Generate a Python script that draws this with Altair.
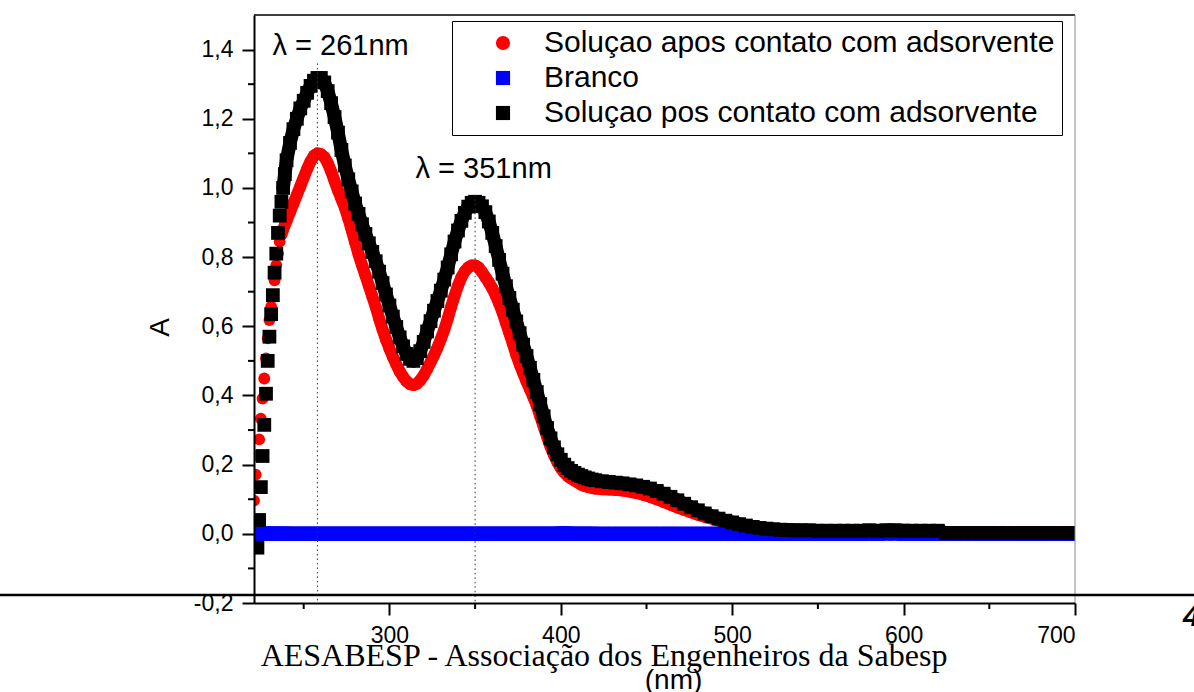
import altair as alt
import pandas as pd

# ---------------- data ----------------
# wavelength grid (nm): 1 nm steps on the steep start, coarser afterwards
WL_A = list(range(221, 240))          # 19 points
WL_B = list(range(240, 420, 2))       # 90 points
WL_C = list(range(420, 540, 4))       # 30 points
WL_D = list(range(540, 701, 5))       # 33 points

NAME_RED = "Soluçao apos contato com adsorvente"
NAME_BLUE = "Branco"
NAME_BLACK = "Soluçao pos contato com adsorvente"

RED_A = [0.096, 0.171, 0.226, 0.273, 0.333, 0.391, 0.449, 0.507, 0.565, 0.618,
         0.657, 0.690, 0.733, 0.777, 0.811, 0.845, 0.865, 0.880, 0.893]
RED_B = [0.905, 0.93, 0.955, 0.98, 1.005, 1.03, 1.055, 1.077, 1.093, 1.10,
         1.098, 1.09, 1.072, 1.048, 1.02, 0.993, 0.968, 0.943, 0.912, 0.878,
         0.843, 0.808, 0.777, 0.747, 0.717, 0.687, 0.656, 0.622, 0.591, 0.562,
         0.536, 0.512, 0.49, 0.47, 0.454, 0.441, 0.433, 0.43, 0.434, 0.444,
         0.458, 0.476, 0.496, 0.516, 0.538, 0.563, 0.59, 0.622, 0.656, 0.688,
         0.717, 0.742, 0.759, 0.77, 0.776, 0.776, 0.77, 0.757, 0.742, 0.727,
         0.71, 0.69, 0.666, 0.64, 0.61, 0.58, 0.55, 0.518, 0.49, 0.465,
         0.44, 0.418, 0.395, 0.37, 0.34, 0.31, 0.28, 0.252, 0.228, 0.207,
         0.19, 0.177, 0.167, 0.16, 0.154, 0.148, 0.142, 0.138, 0.135, 0.133]
RED_C = [0.131, 0.129, 0.128, 0.127, 0.125, 0.122, 0.118, 0.113, 0.107, 0.1,
         0.092, 0.084, 0.076, 0.069, 0.062, 0.055, 0.049, 0.044, 0.038, 0.033,
         0.028, 0.023, 0.019, 0.016, 0.013, 0.012, 0.011, 0.01, 0.01, 0.01]
RED_D = [0.009, 0.009, 0.009, 0.009, 0.009, 0.009, 0.01, 0.01, 0.01, 0.011,
         0.012, 0.012, 0.012, 0.011, 0.011, 0.011, 0.011,
         0.005, 0.005, 0.005, 0.005, 0.005, 0.005, 0.005, 0.005,
         0.005, 0.005, 0.005, 0.005, 0.005, 0.005, 0.005, 0.005]

BLACK_A = [None, None, -0.04, 0.04, 0.135, 0.225, 0.315, 0.405, 0.50, 0.57,
           0.635, 0.69, 0.755, 0.81, 0.87, 0.92, 0.96, 1.0, 1.04]
BLACK_B = [1.08, 1.13, 1.17, 1.2, 1.23, 1.252, 1.275, 1.295, 1.31, 1.318,
           1.318, 1.305, 1.28, 1.245, 1.205, 1.16, 1.11, 1.065, 1.025, 0.99,
           0.955, 0.925, 0.895, 0.867, 0.84, 0.815, 0.788, 0.758, 0.725, 0.692,
           0.66, 0.628, 0.598, 0.568, 0.542, 0.52, 0.506, 0.5, 0.508, 0.528,
           0.555, 0.585, 0.615, 0.645, 0.673, 0.703, 0.735, 0.77, 0.808, 0.845,
           0.877, 0.905, 0.928, 0.946, 0.957, 0.96, 0.957, 0.947, 0.93, 0.903,
           0.87, 0.832, 0.792, 0.752, 0.716, 0.682, 0.648, 0.614, 0.58, 0.547,
           0.514, 0.48, 0.445, 0.41, 0.375, 0.34, 0.306, 0.276, 0.25, 0.23,
           0.214, 0.2, 0.19, 0.182, 0.176, 0.171, 0.167, 0.163, 0.16, 0.157]
BLACK_C = [0.155, 0.152, 0.15, 0.148, 0.146, 0.143, 0.14, 0.136, 0.131, 0.124,
           0.116, 0.107, 0.097, 0.087, 0.077, 0.068, 0.059, 0.051, 0.044, 0.038,
           0.033, 0.028, 0.024, 0.02, 0.017, 0.015, 0.013, 0.012, 0.011, 0.01]
BLACK_D = [0.01, 0.01, 0.009, 0.009, 0.009, 0.009, 0.009, 0.009, 0.01, 0.009,
           0.01, 0.01, 0.009, 0.009, 0.009, 0.009, 0.009,
           0.002, 0.002, 0.002, 0.002, 0.002, 0.002, 0.002, 0.002,
           0.002, 0.002, 0.002, 0.002, 0.002, 0.002, 0.002, 0.002]

BLUE_A = [0.0, 0.0, 0.0, 0.0, 0.0, 0.0, 0.0, 0.0, 0.0, 0.0,
          0.0, 0.0, 0.0, 0.0, 0.0, 0.0, 0.0, 0.0, 0.0]
BLUE_B = [0.0, 0.0, 0.0, 0.0, 0.0, 0.0, 0.0, 0.0, 0.0, 0.0,
          0.0, 0.0, 0.0, 0.0, 0.0, 0.0, 0.0, 0.0, 0.0, 0.0,
          0.0, 0.0, 0.0, 0.0, 0.0, 0.0, 0.0, 0.0, 0.0, 0.0,
          0.0, 0.0, 0.0, 0.0, 0.0, 0.0, 0.0, 0.0, 0.0, 0.0,
          0.0, 0.0, 0.0, 0.0, 0.0, 0.0, 0.0, 0.0, 0.0, 0.0,
          0.0, 0.0, 0.0, 0.0, 0.0, 0.0, 0.0, 0.0, 0.0, 0.0,
          0.0, 0.0, 0.0, 0.0, 0.0, 0.0, 0.0, 0.0, 0.0, 0.0,
          0.0, 0.0, 0.0, 0.0, 0.0, 0.0, 0.0, 0.0, 0.0, 0.0,
          0.001, 0.001, 0.001, 0.0, 0.0, 0.0, 0.0, 0.0, 0.0, 0.0]
BLUE_C = [0.0, 0.0, 0.0, 0.0, 0.0, 0.0, 0.0, 0.0, 0.0, 0.0,
          0.0, 0.0, 0.0, 0.0, 0.0, 0.0, 0.0, 0.0, 0.0, 0.0,
          0.0, 0.0, 0.0, 0.0, 0.0, 0.0, 0.0, 0.0, 0.0, 0.0]
BLUE_D = [0.0, 0.0, 0.0, 0.0, 0.0, 0.0, 0.0, 0.0, 0.0, 0.0,
          0.001, 0.001, 0.0, 0.0, 0.0, 0.0, 0.0,
          0.0, 0.0, 0.0, 0.0, 0.0, 0.0, 0.0, 0.0,
          0.0, 0.0, 0.0, 0.0, 0.0, 0.0, 0.0, 0.0]

X_TICKS = [300, 400, 500, 600, 700]
X_MINOR = [250, 350, 450, 550, 650]
Y_TICKS = [-0.2, 0.0, 0.2, 0.4, 0.6, 0.8, 1.0, 1.2, 1.4]
Y_MINOR = [-0.1, 0.1, 0.3, 0.5, 0.7, 0.9, 1.1, 1.3]

DROP_X = [258, 350]          # dotted drop lines at the two maxima
DROP_TOP = [1.36, 0.98]
ANN_TEXT = ["λ = 261nm", "λ = 351nm"]
ANN_X = [271.5, 355]
ANN_Y = [1.41, 1.055]

NAMES = [NAME_RED, NAME_BLUE, NAME_BLACK]
COLORS = ["#ff0000", "#0000ff", "#000000"]
SHAPES = ["circle", "square", "square"]

# ---------------- geometry ----------------
W, H = 821, 588
PAD = {"left": 254, "top": 15, "right": 119, "bottom": 89}
FONT = "Liberation Sans"

WL = WL_A + WL_B + WL_C + WL_D


def frame(name, a, b, c, d):
    vals = a + b + c + d
    df = pd.DataFrame({"wl": WL[:len(vals)], "A": vals, "series": name})
    return df.dropna()


df_red = frame(NAME_RED, RED_A, RED_B, RED_C, RED_D)
df_blue = frame(NAME_BLUE, BLUE_A, BLUE_B, BLUE_C, BLUE_D)
df_black = frame(NAME_BLACK, BLACK_A, BLACK_B, BLACK_C, BLACK_D)

xscale = alt.Scale(domain=[221, 700], nice=False, zero=False)
yscale = alt.Scale(domain=[-0.2, 1.5], nice=False, zero=False)

x_axis = alt.Axis(values=X_TICKS, format="d", tickSize=12, tickWidth=2,
                  domainWidth=2, domainColor="black", tickColor="black",
                  labelFont=FONT, labelFontSize=23, labelColor="black",
                  labelPadding=9, grid=False, title="(nm)", titleFont=FONT,
                  titleFontSize=28, titleFontWeight="normal", titleColor="black",
                  titleX=419, titleY=85, titleBaseline="alphabetic",
                  titleAlign="center", zindex=2)
y_axis = alt.Axis(values=Y_TICKS, tickSize=12, tickWidth=2, domainWidth=2,
                  domainColor="black", tickColor="black",
                  labelExpr="(datum.value < 0 ? '-' : '') + replace(format(abs(datum.value), '.1f'), '.', ',')",
                  labelFont=FONT, labelFontSize=23, labelColor="black",
                  labelPadding=9, grid=False, title="A", titleFont=FONT,
                  titleFontSize=28, titleFontWeight="normal", titleColor="black",
                  titleAngle=270, titleX=-94, titleY=312, titleBaseline="middle",
                  titleAlign="center", zindex=2)


def X(field):
    return alt.X(field, scale=xscale, axis=x_axis)


def Y(field):
    return alt.Y(field, scale=yscale, axis=y_axis)


legend = alt.Legend(orient="none", legendX=198, legendY=6, title=None,
                    labelFont=FONT, labelFontSize=30, labelColor="black",
                    labelLimit=700, symbolSize=200, symbolStrokeWidth=0,
                    symbolOffset=29, labelOffset=26, padding=7, rowPadding=5,
                    strokeColor="black", fillColor="white")

color_enc = alt.Color("series:N", scale=alt.Scale(domain=NAMES, range=COLORS), legend=legend)
shape_enc = alt.Shape("series:N", scale=alt.Scale(domain=NAMES, range=SHAPES), legend=legend)


def line_layer(df, col, width, start):
    return alt.Chart(df).transform_filter(f"datum.wl >= {start}").mark_line(
        color=col, strokeWidth=width, strokeCap="round", strokeJoin="round", clip=True
    ).encode(x=X("wl:Q"), y=Y("A:Q"))


def point_layer(df, size):
    return alt.Chart(df).mark_point(filled=True, opacity=1, size=size, clip=True).encode(
        x=X("wl:Q"), y=Y("A:Q"), color=color_enc, shape=shape_enc,
    )


red_line = line_layer(df_red, "#ff0000", 12, 237)
red_pts = point_layer(df_red, 140)
blue_line = line_layer(df_blue, "#0000ff", 14, 221)
blue_pts = point_layer(df_blue, 200)
black_line = line_layer(df_black, "#000000", 13.5, 238)
black_pts = point_layer(df_black, 190)

drops = alt.Chart(pd.DataFrame({"wl": DROP_X, "A": DROP_TOP})).mark_rule(
    color="#333333", strokeWidth=1, strokeDash=[1.5, 3]
).encode(x=X("wl:Q"), y=Y("A:Q"), y2=alt.value(H))

ann = alt.Chart(pd.DataFrame({"t": ANN_TEXT, "wl": ANN_X, "A": ANN_Y})).mark_text(
    font=FONT, fontSize=29, color="black", align="center", baseline="middle"
).encode(x=X("wl:Q"), y=Y("A:Q"), text="t:N")

minor_y = alt.Chart(pd.DataFrame({"A": Y_MINOR})).mark_rule(color="black", strokeWidth=2).encode(
    y=Y("A:Q"), x=alt.value(-6), x2=alt.value(0))
minor_x = alt.Chart(pd.DataFrame({"wl": X_MINOR})).mark_rule(color="black", strokeWidth=2).encode(
    x=X("wl:Q"), y=alt.value(H), y2=alt.value(H + 6))

# frame borders (top black, right grey)
top_border = alt.Chart(pd.DataFrame({"k": [0]})).mark_rule(color="black", strokeWidth=1.5).encode(
    x=alt.value(0), x2=alt.value(W), y=alt.value(0))
right_border = alt.Chart(pd.DataFrame({"k": [0]})).mark_rule(color="#888888", strokeWidth=1).encode(
    x=alt.value(W), y=alt.value(0), y2=alt.value(H))

# page artefacts of the scanned document
page_line = alt.Chart(pd.DataFrame({"k": [0]})).mark_rule(color="black", strokeWidth=2.5).encode(
    x=alt.value(-254), x2=alt.value(940), y=alt.value(580))
page_num = alt.Chart(pd.DataFrame({"t": ["4"]})).mark_text(
    font=FONT, fontSize=30, fontWeight="bold", fontStyle="italic", align="left",
    baseline="alphabetic", color="black").encode(x=alt.value(929), y=alt.value(611), text="t:N")
watermark = alt.Chart(pd.DataFrame({"t": ["AESABESP - Associação dos Engenheiros da Sabesp"]})).mark_text(
    font="Liberation Serif", fontSize=32, align="center", baseline="alphabetic",
    color="black").encode(x=alt.value(350), y=alt.value(651), text="t:N")

chart = alt.layer(
    red_line, red_pts, blue_line, blue_pts, black_line, black_pts,
    drops, ann, minor_y, minor_x, top_border, right_border,
    page_line, page_num, watermark,
).properties(
    width=W, height=H,
    autosize=alt.AutoSizeParams(type="none"),
    padding=PAD,
    background="white",
).configure_view(stroke=None)

chart.save("out.html", embed_options={"renderer": "svg", "actions": False})
